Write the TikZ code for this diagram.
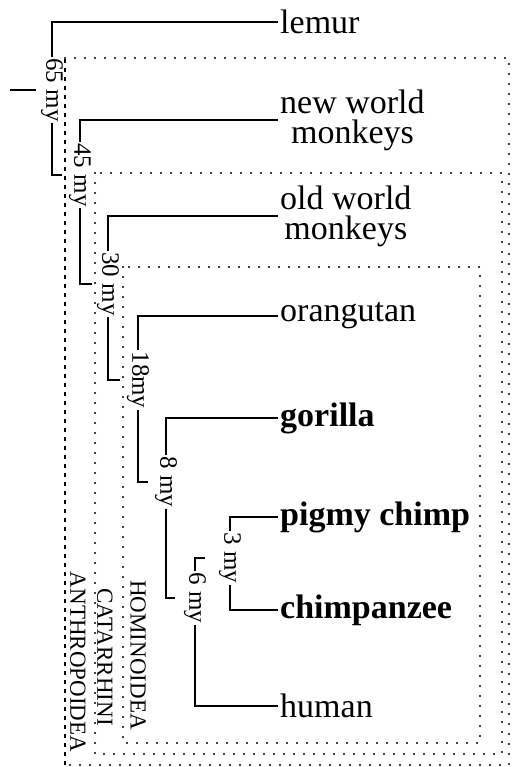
\documentclass[tikz,border=0pt]{standalone}
\usepackage{fontspec}
\setmainfont{Liberation Serif}
\usepackage{tikz}
\tikzset{leaf name/.style={anchor=west,inner sep=2pt,align=center,font=\fontsize{34}{30}\selectfont},
        bold leaf/.style={leaf name,font=\fontsize{34}{30}\selectfont\bfseries},
        age label/.style={rotate=-90,fill=white,inner sep=1pt,font=\fontsize{25}{25}\selectfont},
        clade name/.style={rotate=-90,inner sep=0pt,font=\fontsize{23}{23}\selectfont},
        thin branch/.style={line width=1.6pt},
        thick branch/.style={line width=2.8pt},
        dot box/.style={line width=2.2pt,line cap=round,dash pattern=on 0pt off 10pt},
        dash box/.style={line width=1.3pt,dash pattern=on 4pt off 5pt}}

\begin{document}
\begin{tikzpicture}[x=1pt,y=-1pt]
        \useasboundingbox (0,0) rectangle (516,767);

        \draw [dot box] (65,58) -- (509,58) -- (509,765) -- (65,765);
        \draw [dash box] (65,765) -- (65,58);
        \foreach \l/\t/\r/\b in {95/173/502/754, 123/267/480/743}{
                \draw [dot box] (\l,\t) rectangle (\r,\b);
        }

        \node [clade name] (anthro) at (78,662) {ANTHROPOIDEA};
        \node [clade name] (catarr) at (105,657) {CATARRHINI};
        \node [clade name] (homino) at (138,655) {HOMINOIDEA};

        \node [leaf name] (lemur) at (278,22) {lemur};
        \node [leaf name] (newworld) at (278,120) {new world\\monkeys};
        \node [leaf name] (oldworld) at (278,216) {old world\\monkeys};
        \node [leaf name] (orangutan) at (278,316) {orangutan};
        \node [bold leaf] (gorilla) at (278,418) {gorilla};
        \node [bold leaf] (pigmy) at (278,517) {pigmy chimp};
        \node [bold leaf] (chimp) at (278,610) {chimpanzee};
        \node [leaf name] (human) at (278,706) {human};

        \foreach \n/\x/\y/\t in {65/52/90/65 my, 45/80/175/45 my, 30/108/284/30 my, 18/138/380/18my,
                8/166/482/8 my, 6/195/598/6 my, 3/230/558/3 my}{
                \node [age label] (a\n) at (\x,\y) {\t};
        }

        \coordinate (root) at (10,90);
        \draw [thin branch] (root) -- ([xshift=-4pt]a65.south);

        \draw [thin branch] (lemur.west) -| (a65.west);
        \draw [thin branch] (a65.east) |- ([xshift=-6pt]a45.south);
        \draw [thin branch] (newworld.west) -| (a45.west);
        \draw [thin branch] (a45.east) |- ([xshift=-4pt]a30.south);
        \draw [thin branch] (oldworld.west) -| (a30.west);
        \draw [thin branch] (a30.east) |- ([xshift=-6pt]a18.south);
        \draw [thin branch] (orangutan.west) -| (a18.west);
        \draw [thin branch] (a18.east) |- ([xshift=-6pt]a8.south);

        \draw [thick branch] (gorilla.west) -| (a8.west);
        \draw [thick branch] (a8.east) |- ([xshift=-8pt]a6.south);
        \draw [thick branch] (a6.west) |- ([xshift=-13pt]a3.south);
        \draw [thick branch] (a6.east) |- (human.west);
        \draw [thick branch] (pigmy.west) -| (a3.west);
        \draw [thick branch] (a3.east) |- (chimp.west);
\end{tikzpicture}
\end{document}
